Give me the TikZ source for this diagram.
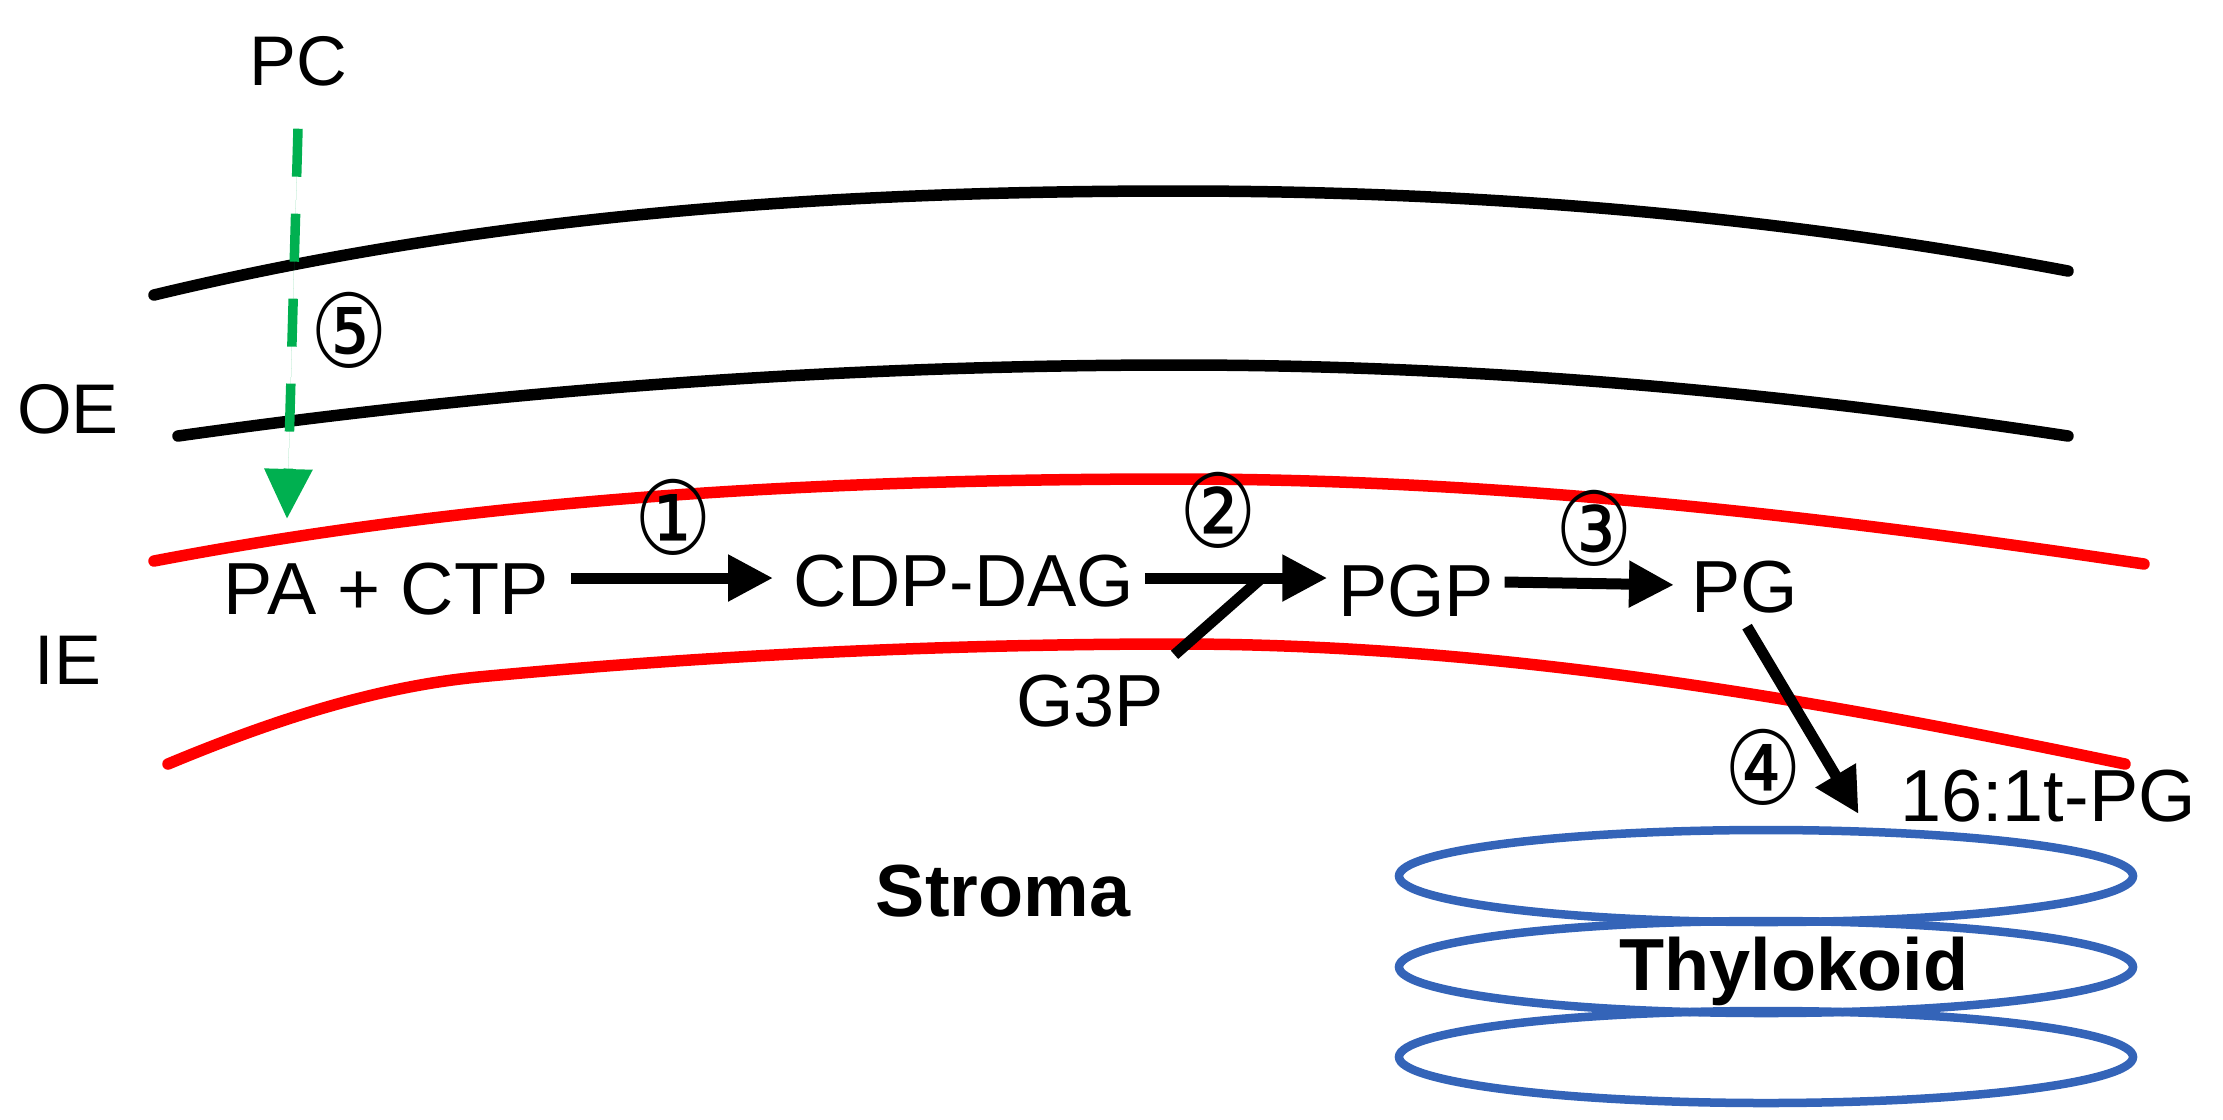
\documentclass[tikz,border=0pt]{standalone}
\usepackage{fontspec}
\usepackage{graphicx}
\setmainfont{Liberation Sans}
\newfontfamily\dejavu{DejaVu Sans}
\usetikzlibrary{arrows.meta,shapes.geometric,calc}
\definecolor{mred}{RGB}{255,0,0}
\definecolor{mgreen}{RGB}{0,176,80}
\definecolor{mblue}{RGB}{52,100,184}
\begin{document}
\begin{tikzpicture}[
  lbl/.style={font=\fontsize{21}{21}\selectfont, inner sep=0.1cm, text height=0.53cm, text depth=0cm},
  side/.style={font=\fontsize{20}{20}\selectfont, inner sep=0.1cm, text height=0.5cm, text depth=0cm},
  bld/.style={font=\bfseries\fontsize{21}{21}\selectfont, inner sep=0.1cm, text height=0.53cm, text depth=0cm},
  num/.style={font=\dejavu\fontsize{29}{29}\selectfont, inner sep=0pt},
  memb/.style={line width=0.115cm, line cap=round},
  rxn/.style={line width=0.11cm, -{Triangle[length=0.45cm,width=0.44cm]}},
  thy/.style={draw=mblue, line width=0.085cm, ellipse, minimum width=7.34cm, minimum height=0.92cm, inner sep=0pt},
  transp/.style={draw=mgreen, line width=0.095cm, dash pattern=on 0.48cm off 0.37cm, -{Triangle[length=0.5cm,width=0.46cm]}, fill=mgreen}
]
\useasboundingbox (0,0) rectangle (22.23,-11.19);

% envelope membranes
\draw[memb] (1.54,-2.95) .. controls (4.95,-2.13) and (8.37,-1.91) .. (11.78,-1.91)
  .. controls (14.75,-1.91) and (17.71,-2.15) .. (20.68,-2.71);
\draw[memb] (1.78,-4.36) .. controls (5.11,-3.89) and (8.45,-3.65) .. (11.78,-3.65)
  .. controls (14.75,-3.65) and (17.71,-3.91) .. (20.68,-4.36);
\draw[memb, mred] (1.54,-5.61) .. controls (4.95,-4.96) and (8.37,-4.79) .. (11.78,-4.79)
  .. controls (15.00,-4.79) and (18.22,-5.16) .. (21.44,-5.64);
\draw[memb, mred] (1.68,-7.64) .. controls (2.71,-7.21) and (3.75,-6.87) .. (4.78,-6.77)
  .. controls (7.11,-6.55) and (9.45,-6.44) .. (11.78,-6.44)
  .. controls (14.94,-6.44) and (18.09,-6.98) .. (21.25,-7.64);

% thylakoid stack
\node[thy] (th1) at (17.66,-8.76) {};
\node[thy] (th2) at (17.66,-9.67) {};
\node[thy] (th3) at (17.66,-10.57) {};

% labels
\node[side] (PC) at (2.98,-0.60) {PC};
\node[side] (OE) at (0.68,-4.08) {OE};
\node[side] (IE) at (0.68,-6.59) {IE};
\node[lbl] (PA) at (3.86,-5.88) {PA + CTP};
\node[lbl] (CDP) at (9.64,-5.80) {CDP-DAG};
\node[lbl] (PGP) at (14.16,-5.90) {PGP};
\node[lbl] (PG) at (17.45,-5.86) {PG};
\node[lbl] (G3P) at (10.90,-7.00) {G3P};
\node[lbl] (t16) at (20.48,-7.95) {16:1t-PG};
\node[bld] (stroma) at (10.03,-8.90) {Stroma};
\node[bld] (thyl) at (17.94,-9.64) {Thylokoid};

% step numbers
\node[num] (n5) at (3.49,-3.30) {\scalebox{0.85}[1]{⑤}};
\node[num] (n1) at (6.73,-5.17) {\scalebox{0.85}[1]{①}};
\node[num] (n2) at (12.18,-5.10) {\scalebox{0.85}[1]{②}};
\node[num] (n3) at (15.94,-5.28) {\scalebox{0.85}[1]{③}};
\node[num] (n4) at (17.63,-7.67) {\scalebox{0.85}[1]{④}};

% transport of PC
\coordinate (pcend) at (2.87,-5.19);
\draw[transp] ([yshift=-0.33cm]PC.south) -- (pcend);

% reactions
\draw[rxn, shorten <=0.12cm, shorten >=0.1cm] ([yshift=0.1cm]PA.east) -- ([yshift=0.02cm]CDP.west);
\draw[rxn] ([yshift=0.02cm]CDP.east) -- ([yshift=0.12cm]PGP.west);
\coordinate (join) at ($([yshift=0.02cm]CDP.east)!0.64!([yshift=0.12cm]PGP.west)$);
\draw[line width=0.11cm] ([xshift=0.0cm,yshift=0.08cm]G3P.north east) -- (join);
\draw[rxn, shorten >=0.07cm] ([yshift=0.08cm]PGP.east) -- ([yshift=0.01cm]PG.west);
\draw[rxn, shorten <=0.04cm] (PG.south) -- ($(t16.west)+(-0.31,-0.19)$);
\end{tikzpicture}
\end{document}
